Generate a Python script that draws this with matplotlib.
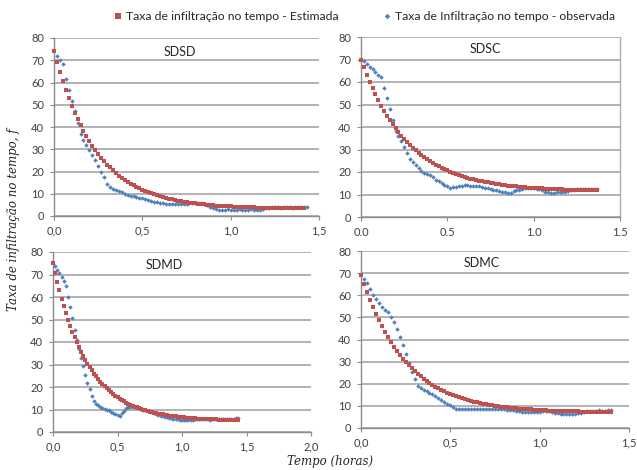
import numpy as np
import matplotlib
matplotlib.use("Agg")
import matplotlib.pyplot as plt
from matplotlib.lines import Line2D
from matplotlib.ticker import FuncFormatter, MultipleLocator

COR_EST = "#C0504D"
COR_OBS = "#4F81BD"
COR_GRADE = "#ADADAD"
COR_EIXO = "#8C8C8C"
COR_TEXTO = "#404040"

rotulo_est = "Taxa de infiltração no tempo - Estimada"
rotulo_obs = "Taxa de Infiltração no tempo - observada"
ensaios = ["SDSD", "SDSC", "SDMD", "SDMC"]

# Taxa estimada: leituras a cada minuto, a partir de t = 0
est_sdsd = [74.0, 69.2, 64.7, 60.5, 56.6, 53.0, 49.6, 46.4, 43.5, 40.7,
            38.2, 35.8, 33.6, 31.5, 29.6, 27.8, 26.1, 24.6, 23.1, 21.8,
            20.5, 19.3, 18.2, 17.2, 16.3, 15.4, 14.6, 13.8, 13.1, 12.4,
            11.8, 11.2, 10.7, 10.2, 9.7, 9.3, 8.9, 8.5, 8.1, 7.8,
            7.5, 7.2, 6.9, 6.7, 6.5, 6.2, 6.0, 5.9, 5.7, 5.5,
            5.4, 5.2, 5.1, 5.0, 4.9, 4.7, 4.6, 4.6, 4.5, 4.4,
            4.3, 4.2, 4.2, 4.1, 4.1, 4.0, 4.0, 3.9, 3.9, 3.8,
            3.8, 3.8, 3.7, 3.7, 3.7, 3.7, 3.6, 3.6, 3.6, 3.6,
            3.5, 3.5, 3.5, 3.5, 3.5, 3.5]
est_sdsc = [70.0, 66.5, 63.2, 60.1, 57.2, 54.5, 51.9, 49.5, 47.2, 45.1,
            43.1, 41.2, 39.4, 37.7, 36.2, 34.7, 33.3, 32.0, 30.8, 29.6,
            28.5, 27.5, 26.6, 25.7, 24.8, 24.0, 23.3, 22.6, 21.9, 21.3,
            20.7, 20.1, 19.6, 19.1, 18.7, 18.3, 17.9, 17.5, 17.1, 16.8,
            16.5, 16.2, 15.9, 15.6, 15.4, 15.1, 14.9, 14.7, 14.5, 14.3,
            14.2, 14.0, 13.9, 13.7, 13.6, 13.5, 13.3, 13.2, 13.1, 13.0,
            12.9, 12.9, 12.8, 12.7, 12.6, 12.6, 12.5, 12.4, 12.4, 12.3,
            12.3, 12.2, 12.2, 12.1, 12.1, 12.1, 12.0, 12.0, 12.0, 11.9,
            11.9, 11.9, 11.9]
est_sdmd = [75.0, 70.7, 66.7, 62.9, 59.3, 56.0, 52.9, 49.9, 47.2, 44.6,
            42.2, 39.9, 37.7, 35.7, 33.8, 32.1, 30.4, 28.8, 27.4, 26.0,
            24.7, 23.5, 22.4, 21.3, 20.3, 19.4, 18.5, 17.7, 16.9, 16.2,
            15.5, 14.8, 14.2, 13.7, 13.1, 12.6, 12.2, 11.7, 11.3, 10.9,
            10.6, 10.2, 9.9, 9.6, 9.3, 9.0, 8.8, 8.6, 8.3, 8.1,
            7.9, 7.8, 7.6, 7.4, 7.3, 7.1, 7.0, 6.9, 6.8, 6.7,
            6.6, 6.5, 6.4, 6.3, 6.2, 6.1, 6.1, 6.0, 5.9, 5.9,
            5.8, 5.8, 5.7, 5.7, 5.6, 5.6, 5.6, 5.5, 5.5, 5.5,
            5.4, 5.4, 5.4, 5.4, 5.3, 5.3, 5.3]
est_sdmc = [69.0, 65.0, 61.3, 57.8, 54.5, 51.4, 48.6, 45.9, 43.4, 41.0,
            38.8, 36.8, 34.9, 33.1, 31.4, 29.8, 28.3, 27.0, 25.7, 24.5,
            23.3, 22.3, 21.3, 20.4, 19.5, 18.7, 18.0, 17.2, 16.6, 16.0,
            15.4, 14.8, 14.3, 13.9, 13.4, 13.0, 12.6, 12.3, 11.9, 11.6,
            11.3, 11.0, 10.8, 10.5, 10.3, 10.1, 9.9, 9.7, 9.5, 9.4,
            9.2, 9.1, 8.9, 8.8, 8.7, 8.6, 8.5, 8.4, 8.3, 8.2,
            8.1, 8.1, 8.0, 7.9, 7.9, 7.8, 7.8, 7.7, 7.7, 7.6,
            7.6, 7.5, 7.5, 7.5, 7.4, 7.4, 7.4, 7.4, 7.3, 7.3,
            7.3, 7.3, 7.3, 7.2, 7.2]

# Taxa observada: leituras a cada minuto, a partir de t = 1 min
obs_sdsd = [72.0, 70.3, 68.5, 61.5, 56.5, 51.5, 47.0, 42.0, 37.0, 34.0,
            31.7, 29.8, 27.5, 25.0, 22.5, 20.0, 17.5, 14.5, 13.0, 12.3,
            11.8, 11.2, 10.6, 10.1, 9.5, 9.2, 8.9, 8.6, 8.3, 7.9,
            7.5, 7.1, 6.8, 6.5, 6.2, 6.0, 5.8, 5.6, 5.5, 5.4,
            5.3, 5.3, 5.4, 5.5, 5.6, 5.7, 5.8, 5.9, 5.9, 5.8,
            5.5, 5.0, 4.2, 3.4, 3.0, 2.9, 2.8, 2.9, 3.0, 2.9,
            2.8, 2.9, 3.0, 2.9, 2.8, 2.9, 3.0, 2.9, 2.8, 2.9,
            3.0, 3.4, 3.8, 3.9, 4.0, 3.9, 3.8, 3.9, 4.1, 3.9,
            3.8, 3.9, 4.0, 3.9, 4.2, 4.1]
obs_sdsc = [69.2, 68.0, 66.8, 65.6, 64.4, 63.2, 62.2, 57.4, 53.0, 47.8,
            42.9, 38.1, 35.9, 33.7, 31.0, 28.5, 26.0, 24.5, 23.0, 21.8,
            20.3, 19.6, 19.1, 18.5, 17.7, 16.6, 15.9, 15.1, 14.4, 13.6,
            12.9, 13.2, 13.5, 13.6, 13.9, 14.1, 14.1, 13.9, 13.8, 13.7,
            13.6, 13.4, 13.1, 12.8, 12.5, 12.2, 11.9, 11.6, 11.3, 11.0,
            10.8, 10.8, 11.4, 11.8, 12.2, 12.5, 12.7, 12.9, 12.9, 12.8,
            12.6, 12.3, 11.8, 11.3, 11.0, 10.8, 10.8, 10.9, 10.9, 11.0,
            11.2, 11.6, 12.0, 12.2, 12.3, 12.4, 12.5, 12.4, 12.5, 12.6,
            12.5, 12.4]
obs_sdmd = [73.6, 72.1, 70.6, 68.7, 66.9, 65.1, 60.2, 55.5, 50.5, 45.5,
            41.0, 37.0, 33.0, 29.5, 25.5, 21.8, 19.0, 16.2, 14.0, 12.5,
            11.8, 11.2, 10.8, 10.4, 10.0, 9.6, 9.1, 8.6, 8.2, 7.7,
            7.3, 8.3, 9.5, 10.6, 11.2, 11.3, 11.2, 11.0, 10.7, 10.5,
            10.2, 9.9, 9.6, 9.3, 9.0, 8.7, 8.4, 8.0, 7.7, 7.3,
            7.0, 6.8, 6.6, 6.4, 6.2, 6.0, 5.8, 5.6, 5.5, 5.4,
            5.4, 5.3, 5.2, 5.3, 5.4, 5.6, 5.7, 5.8, 5.8, 5.7,
            5.6, 5.6, 5.5, 5.6, 5.7, 5.8, 5.7, 5.6, 5.7, 5.8,
            5.9, 5.8, 5.9, 6.0, 6.1, 6.2]
obs_sdmc = [67.5, 65.5, 63.0, 60.0, 58.5, 56.6, 54.8, 53.5, 52.3, 50.0,
            47.8, 44.8, 41.0, 37.5, 33.5, 29.5, 25.5, 22.0, 19.2, 18.2,
            17.4, 16.7, 16.0, 15.2, 14.3, 13.4, 12.5, 11.7, 11.0, 10.3,
            9.5, 8.7, 8.4, 8.4, 8.5, 8.6, 8.7, 8.7, 8.8, 8.8,
            8.8, 8.7, 8.7, 8.8, 8.8, 8.7, 8.6, 8.5, 8.3, 8.1,
            8.0, 7.8, 7.5, 7.3, 7.2, 7.2, 7.3, 7.2, 7.3, 7.4,
            7.6, 7.8, 7.7, 7.4, 7.0, 6.7, 6.5, 6.4, 6.4, 6.5,
            6.4, 6.5, 6.7, 7.0, 7.4, 7.7, 7.9, 7.8, 7.9, 8.0,
            7.9, 7.8, 8.0, 8.1]

estimadas = [est_sdsd, est_sdsc, est_sdmd, est_sdmc]
observadas = [obs_sdsd, obs_sdsc, obs_sdmd, obs_sdmc]
x_max = [1.5, 1.5, 2.0, 1.5]
sep_decimal = [",", ".", ",", ","]

W, H = 637, 470
# (esquerda, topo, direita, base) de cada área de plotagem, em pixels
caixas = [(54, 38, 319, 216), (361, 37, 620, 217),
          (53, 252, 311, 432), (361, 251, 629, 428)]
pos_titulo = [(0.475, 0.92), (0.48, 0.935), (0.43, 0.93), (0.45, 0.935)]

fig = plt.figure(figsize=(W / 100, H / 100), dpi=100)
fig.patch.set_facecolor("white")

for i, nome in enumerate(ensaios):
    l, t, r, b = caixas[i]
    ax = fig.add_axes([l / W, 1 - b / H, (r - l) / W, (b - t) / H])

    est = np.array(estimadas[i])
    obs = np.array(observadas[i])
    t_est = np.arange(len(est)) / 60.0
    t_obs = np.arange(1, len(obs) + 1) / 60.0

    ax.plot(t_obs, obs, linestyle="none", marker="D", markersize=2.3,
            markeredgewidth=0, color=COR_OBS, zorder=3, clip_on=False)
    ax.plot(t_est, est, linestyle="none", marker="s", markersize=3.5,
            markeredgewidth=0, color=COR_EST, zorder=4, clip_on=False)

    ax.set_xlim(0, x_max[i])
    ax.set_ylim(0, 80)
    ax.xaxis.set_major_locator(MultipleLocator(0.5))
    ax.yaxis.set_major_locator(MultipleLocator(10))
    sep = sep_decimal[i]
    ax.xaxis.set_major_formatter(
        FuncFormatter(lambda v, p, s=sep: f"{v:.1f}".replace(".", s)))
    ax.yaxis.set_major_formatter(FuncFormatter(lambda v, p: f"{v:.0f}"))

    ax.yaxis.grid(True, color=COR_GRADE, linewidth=1.3)
    ax.set_axisbelow(True)
    for lado in ["top", "right"]:
        ax.spines[lado].set_visible(False)
    if i == 1:
        ax.spines["right"].set_visible(True)
        ax.spines["right"].set_color(COR_GRADE)
        ax.spines["right"].set_linewidth(1.0)
    for lado in ["left", "bottom"]:
        ax.spines[lado].set_color(COR_EIXO)
        ax.spines[lado].set_linewidth(1.0)
    ax.tick_params(axis="both", direction="out", length=3, width=0.8,
                   color=COR_EIXO, labelsize=8, labelcolor=COR_TEXTO,
                   pad=4)
    for lab in ax.get_xticklabels() + ax.get_yticklabels():
        lab.set_fontfamily("Lato")

    ax.text(pos_titulo[i][0], pos_titulo[i][1], nome, transform=ax.transAxes,
            ha="center", va="center", fontsize=9, family="Lato",
            color="#262626")

handles = [
    Line2D([], [], linestyle="none", marker="s", markersize=3.8,
           markeredgewidth=0, color=COR_EST),
    Line2D([], [], linestyle="none", marker="D", markersize=2.8,
           markeredgewidth=0, color=COR_OBS),
]
fig.legend(handles, [rotulo_est, rotulo_obs], loc="center left",
           bbox_to_anchor=(113 / W, 1 - 17 / H), ncol=2, frameon=False,
           prop={"family": "Lato", "size": 8.8}, handlelength=0.8,
           handletextpad=0.3, columnspacing=3.5, borderaxespad=0,
           borderpad=0, labelcolor="#262626")

fig.text(14 / W, 1 - 220 / H, "Taxa de infiltração no tempo, f",
         rotation=90, ha="center", va="center", fontsize=8.5,
         family="DejaVu Serif", style="italic", color="#262626")
fig.text(330 / W, 1 - 462 / H, "Tempo (horas)", ha="center", va="center",
         fontsize=8.5, family="DejaVu Serif", style="italic", color="#262626")

fig.savefig("out.png", dpi=100, facecolor="white")
